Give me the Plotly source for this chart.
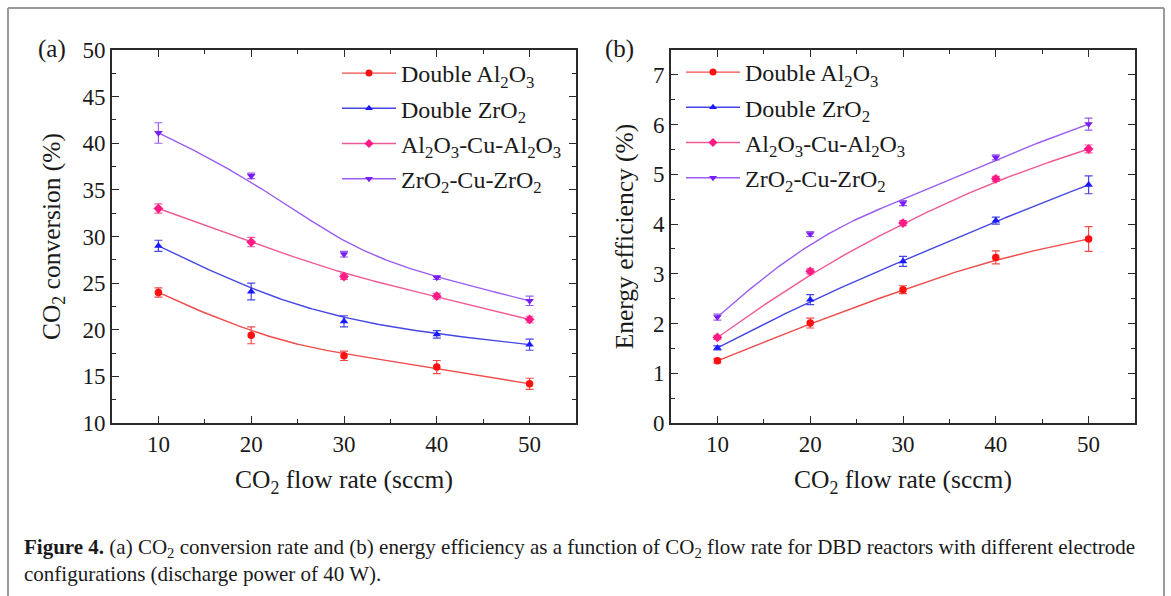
import numpy as np
import plotly.graph_objects as go

# CO2 flow rate (sccm)
flow = [10, 20, 30, 40, 50]
series_names = [
    "Double Al<sub>2</sub>O<sub>3</sub>",
    "Double ZrO<sub>2</sub>",
    "Al<sub>2</sub>O<sub>3</sub>-Cu-Al<sub>2</sub>O<sub>3</sub>",
    "ZrO<sub>2</sub>-Cu-ZrO<sub>2</sub>",
]

# (a) CO2 conversion (%)
conv_al2o3 = [24.0, 19.4, 17.2, 16.0, 14.2]
conv_al2o3_err = [0.5, 0.9, 0.5, 0.7, 0.6]
conv_zro2 = [29.0, 24.1, 20.9, 19.5, 18.4]
conv_zro2_err = [0.6, 0.9, 0.6, 0.4, 0.6]
conv_al_cu = [33.0, 29.4, 25.7, 23.6, 21.1]
conv_al_cu_err = [0.5, 0.5, 0.3, 0.3, 0.35]
conv_zr_cu = [41.1, 36.5, 28.1, 25.6, 23.1]
conv_zr_cu_err = [1.1, 0.3, 0.3, 0.2, 0.5]

# (b) Energy efficiency (%)
eff_al2o3 = [1.25, 2.01, 2.68, 3.33, 3.70]
eff_al2o3_err = [0.04, 0.1, 0.08, 0.13, 0.25]
eff_zro2 = [1.51, 2.48, 3.25, 4.07, 4.79]
eff_zro2_err = [0.04, 0.1, 0.1, 0.07, 0.18]
eff_al_cu = [1.72, 3.05, 4.02, 4.91, 5.51]
eff_al_cu_err = [0.04, 0.05, 0.05, 0.05, 0.08]
eff_zr_cu = [2.13, 3.80, 4.42, 5.34, 6.01]
eff_zr_cu_err = [0.06, 0.05, 0.05, 0.05, 0.12]

marker_colors = ["#ff1010", "#1a1aff", "#ff1a86", "#7a1cf5"]
line_colors = ["#ef4b4b", "#4646e6", "#ee5a96", "#9b5cf0"]
symbols = ["circle", "triangle-up", "diamond", "triangle-down"]

W, H = 1171, 596
FONT = "Liberation Serif"


def bspline(xs, ys, n=200, k=3):
    """Clamped B-spline connecting line using the points as control points."""
    P = np.column_stack([xs, ys]).astype(float)
    m = len(P)
    k = min(k, m - 1)
    inner = np.linspace(0, 1, m - k + 1)[1:-1]
    knots = np.concatenate([np.zeros(k + 1), inner, np.ones(k + 1)])
    ts = np.linspace(0, 1, n)
    out = []
    for t in ts:
        if t >= 1.0:
            out.append(P[-1])
            continue
        s = np.searchsorted(knots, t, side="right") - 1
        d = [P[j + s - k].copy() for j in range(k + 1)]
        for r in range(1, k + 1):
            for j in range(k, r - 1, -1):
                i = j + s - k
                a = (t - knots[i]) / (knots[i + k + 1 - r] - knots[i])
                d[j] = (1 - a) * d[j - 1] + a * d[j]
        out.append(d[k])
    out = np.array(out)
    return out[:, 0], out[:, 1]


fig = go.Figure()

panels = [
    ("x", "y", "legend", [conv_al2o3, conv_zro2, conv_al_cu, conv_zr_cu],
     [conv_al2o3_err, conv_zro2_err, conv_al_cu_err, conv_zr_cu_err]),
    ("x2", "y2", "legend2", [eff_al2o3, eff_zro2, eff_al_cu, eff_zr_cu],
     [eff_al2o3_err, eff_zro2_err, eff_al_cu_err, eff_zr_cu_err]),
]

for xa, ya, leg, values, errors in panels:
    for i, (vals, errs) in enumerate(zip(values, errors)):
        cx, cy = bspline(flow, vals)
        grp = f"{leg}_{i}"
        # smooth connecting line
        fig.add_trace(go.Scatter(
            x=cx, y=cy, mode="lines", xaxis=xa, yaxis=ya,
            line=dict(color=line_colors[i], width=1.4),
            showlegend=False, legendgroup=grp, hoverinfo="skip",
        ))
        # measured points with error bars
        fig.add_trace(go.Scatter(
            x=flow, y=vals, mode="markers", xaxis=xa, yaxis=ya,
            marker=dict(symbol=symbols[i], size=7.5, color=marker_colors[i],
                        line=dict(width=0)),
            error_y=dict(type="data", array=errs, visible=True,
                         color=line_colors[i], thickness=1.2, width=4),
            showlegend=False, legendgroup=grp,
        ))
        # legend entry: line + marker
        fig.add_trace(go.Scatter(
            x=[None], y=[None], mode="lines+markers", xaxis=xa, yaxis=ya,
            name=series_names[i], legend=leg, legendgroup=grp,
            line=dict(color=line_colors[i], width=1.4),
            marker=dict(symbol=symbols[i], size=7, color=marker_colors[i]),
        ))

axis_common = dict(
    showline=True, linecolor="#2a2a2a", linewidth=1.6, mirror="ticks",
    ticks="inside", ticklen=7, tickwidth=1.4, tickcolor="#2a2a2a",
    showgrid=False, zeroline=False, automargin=False,
    tickfont=dict(family=FONT, size=23, color="#1a1a1a"),
    title_font=dict(family=FONT, size=25.5, color="#1a1a1a"),
)
x_common = dict(axis_common, range=[5, 55], tickvals=flow,
                minor=dict(ticks="inside", ticklen=4, tickwidth=1.2,
                           tickcolor="#2a2a2a", dtick=5, tick0=5, showgrid=False),
                title_text="CO<sub>2</sub> flow rate (sccm)", title_standoff=14)

fig.update_layout(
    width=W, height=H,
    margin=dict(l=0, r=0, t=0, b=0, autoexpand=False),
    paper_bgcolor="white", plot_bgcolor="white",
    font=dict(family=FONT, color="#1a1a1a"),
    xaxis=dict(x_common, domain=[112 / W, 576 / W], anchor="y"),
    xaxis2=dict(x_common, domain=[671 / W, 1135 / W], anchor="y2"),
    yaxis=dict(axis_common, domain=[1 - 423 / H, 1 - 50 / H], anchor="x",
               range=[10, 50], dtick=5,
               minor=dict(ticks="inside", ticklen=4, tickwidth=1.2,
                          tickcolor="#2a2a2a", dtick=2.5, showgrid=False),
               title_text="CO<sub>2</sub> conversion (%)", title_standoff=15),
    yaxis2=dict(axis_common, domain=[1 - 423 / H, 1 - 50 / H], anchor="x2",
                range=[0, 7.5], dtick=1,
                minor=dict(ticks="inside", ticklen=4, tickwidth=1.2,
                           tickcolor="#2a2a2a", dtick=0.5, showgrid=False),
                title_text="Energy efficiency (%)", title_standoff=12),
    legend=dict(x=337 / W, y=1 - 51 / H, xanchor="left", yanchor="top",
                bgcolor="rgba(0,0,0,0)", font=dict(family=FONT, size=24),
                tracegroupgap=1, itemwidth=54),
    legend2=dict(x=681 / W, y=1 - 50 / H, xanchor="left", yanchor="top",
                 bgcolor="rgba(0,0,0,0)", font=dict(family=FONT, size=24),
                 tracegroupgap=1, itemwidth=54),
)

# panel labels
for label, px in (("(a)", 52), ("(b)", 619)):
    fig.add_annotation(text=label, x=px / W, y=1 - 49 / H, xref="paper", yref="paper",
                       xanchor="center", yanchor="middle", showarrow=False,
                       font=dict(family=FONT, size=25, color="#1a1a1a"))

# caption
fig.add_annotation(
    text="<b>Figure 4.</b> (a) CO<sub>2</sub> conversion rate and (b) energy efficiency as a "
         "function of CO<sub>2</sub> flow rate for DBD reactors with different electrode"
         "<br>configurations (discharge power of 40 W).",
    x=22 / W, y=1 - 533 / H, xref="paper", yref="paper", xanchor="left", yanchor="top",
    align="left", showarrow=False,
    font=dict(family=FONT, size=21, color="#1a1a1a"),
)

# figure frame
frame = dict(type="line", xref="paper", yref="paper",
             line=dict(color="#9a9a9a", width=2))
fig.add_shape(frame, x0=8 / W, x1=1164 / W, y0=1 - 8 / H, y1=1 - 8 / H)
fig.add_shape(frame, x0=8 / W, x1=8 / W, y0=1 - 8 / H, y1=0)
fig.add_shape(frame, x0=1164 / W, x1=1164 / W, y0=1 - 8 / H, y1=0)

fig.write_html("out.html")
